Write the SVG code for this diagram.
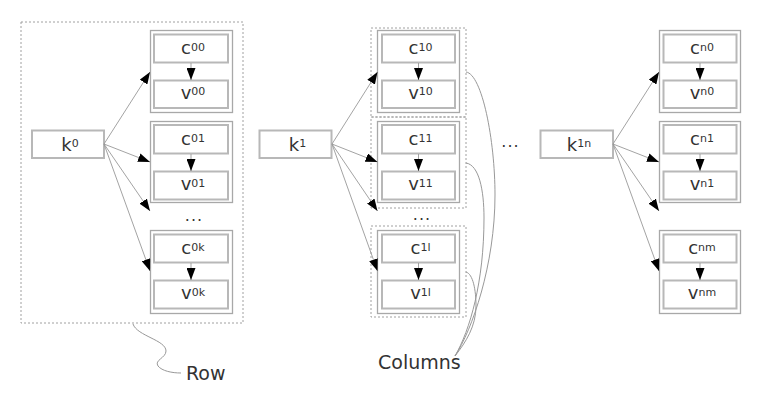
<svg xmlns="http://www.w3.org/2000/svg" width="771" height="403" viewBox="0 0 771 403">
<defs>
<marker id="ah" markerUnits="userSpaceOnUse" markerWidth="12" markerHeight="9" refX="12" refY="4.5" orient="auto">
<path d="M0,0 L12,4.5 L0,9 Z" fill="#000"/>
</marker>
<style>
text{font-family:"DejaVu Sans","Liberation Sans",sans-serif;fill:#333;}
.lbl{font-size:18px;text-anchor:middle;}
.sup{font-size:11px;}
.box{fill:#fff;stroke:#b8b8b8;stroke-width:2;}
.cell{fill:#fff;stroke:#a8a8a8;stroke-width:1.3;}
.dash{fill:none;stroke:#a0a0a0;stroke-width:1;stroke-dasharray:2,2;}
.edge{fill:none;stroke:#999;stroke-width:0.9;marker-end:url(#ah);}
.brace{fill:none;stroke:#999;stroke-width:1;}
.big{font-size:19px;}
.dots{font-size:16px;text-anchor:middle;letter-spacing:1px;}
</style>
</defs>
<rect width="771" height="403" fill="#fff"/>

<g id="groups">
<rect id="row" class="dash" x="21" y="22" width="222" height="301"/>
<rect class="dash" x="371" y="28" width="95" height="89"/>
<rect class="dash" x="371" y="117" width="95" height="91"/>
<rect class="dash" x="371" y="226" width="95" height="91"/>
</g>

<g id="k0"><rect class="box" x="32" y="130.5" width="72" height="27.5"/><text class="lbl" x="70" y="150.5">k<tspan class="sup" dy="-4">0</tspan></text></g>
<g id="k1"><rect class="box" x="259.5" y="130.5" width="72" height="27.5"/><text class="lbl" x="297.5" y="150.5">k<tspan class="sup" dy="-4">1</tspan></text></g>
<g id="k1n"><rect class="box" x="540.5" y="130.5" width="72.5" height="27.5"/><text class="lbl" x="579" y="150.5">k<tspan class="sup" dy="-4">1n</tspan></text></g>

<!-- group 0 cells -->
<g id="cell00"><rect class="cell" x="150.5" y="30.5" width="82" height="82"/>
<rect class="box" x="154" y="34.5" width="74" height="28"/><text class="lbl" x="193" y="54">c<tspan class="sup" dy="-3.5">00</tspan></text>
<rect class="box" x="154" y="80.5" width="74" height="27.5"/><text class="lbl" x="193" y="98.5">v<tspan class="sup" dy="-3.5">00</tspan></text></g>
<g id="cell01"><rect class="cell" x="150.5" y="121.5" width="82" height="81"/>
<rect class="box" x="154" y="125" width="74" height="28.5"/><text class="lbl" x="193" y="145">c<tspan class="sup" dy="-3.5">01</tspan></text>
<rect class="box" x="154" y="171.5" width="74" height="28"/><text class="lbl" x="193" y="190">v<tspan class="sup" dy="-3.5">01</tspan></text></g>
<g id="cell0k"><rect class="cell" x="150.5" y="230.5" width="82" height="83"/>
<rect class="box" x="154" y="234.5" width="74" height="28"/><text class="lbl" x="193" y="254">c<tspan class="sup" dy="-3.5">0k</tspan></text>
<rect class="box" x="154" y="280.5" width="74" height="28"/><text class="lbl" x="193" y="299">v<tspan class="sup" dy="-3.5">0k</tspan></text></g>

<!-- group 1 cells -->
<g id="cell10"><rect class="cell" x="377.5" y="30.5" width="82" height="82"/>
<rect class="box" x="382" y="34.5" width="73" height="28"/><text class="lbl" x="420.5" y="54">c<tspan class="sup" dy="-3.5">10</tspan></text>
<rect class="box" x="382" y="80.5" width="73" height="27.5"/><text class="lbl" x="420.5" y="98.5">v<tspan class="sup" dy="-3.5">10</tspan></text></g>
<g id="cell11"><rect class="cell" x="377.5" y="121.5" width="82" height="81"/>
<rect class="box" x="382" y="125" width="73" height="28.5"/><text class="lbl" x="420.5" y="145">c<tspan class="sup" dy="-3.5">11</tspan></text>
<rect class="box" x="382" y="171.5" width="73" height="28"/><text class="lbl" x="420.5" y="190">v<tspan class="sup" dy="-3.5">11</tspan></text></g>
<g id="cell1l"><rect class="cell" x="377.5" y="230.5" width="82" height="83"/>
<rect class="box" x="382" y="234.5" width="73" height="28"/><text class="lbl" x="420.5" y="254">c<tspan class="sup" dy="-3.5">1l</tspan></text>
<rect class="box" x="382" y="280.5" width="73" height="28"/><text class="lbl" x="420.5" y="299">v<tspan class="sup" dy="-3.5">1l</tspan></text></g>

<!-- group n cells -->
<g id="celln0"><rect class="cell" x="659.5" y="30.5" width="81" height="82"/>
<rect class="box" x="663.5" y="34.5" width="73" height="28"/><text class="lbl" x="702" y="54">c<tspan class="sup" dy="-3.5">n0</tspan></text>
<rect class="box" x="663.5" y="80.5" width="73" height="27.5"/><text class="lbl" x="702" y="98.5">v<tspan class="sup" dy="-3.5">n0</tspan></text></g>
<g id="celln1"><rect class="cell" x="659.5" y="121.5" width="81" height="81"/>
<rect class="box" x="663.5" y="125" width="73" height="28.5"/><text class="lbl" x="702" y="145">c<tspan class="sup" dy="-3.5">n1</tspan></text>
<rect class="box" x="663.5" y="171.5" width="73" height="28"/><text class="lbl" x="702" y="190">v<tspan class="sup" dy="-3.5">n1</tspan></text></g>
<g id="cellnm"><rect class="cell" x="659.5" y="230.5" width="81" height="83"/>
<rect class="box" x="663.5" y="234.5" width="73" height="28"/><text class="lbl" x="702" y="254">c<tspan class="sup" dy="-3.5">nm</tspan></text>
<rect class="box" x="663.5" y="280.5" width="73" height="28"/><text class="lbl" x="702" y="299">v<tspan class="sup" dy="-3.5">nm</tspan></text></g>

<g id="dots">
<text class="dots" x="194" y="221">...</text>
<text class="dots" x="422" y="220">...</text>
<text class="dots" x="510.5" y="147">...</text>
</g>

<g id="connectors">
<path class="edge" d="M104,144 L150,72"/>
<path class="edge" d="M104,144 L150,162"/>
<path class="edge" d="M104,144 L150,211"/>
<path class="edge" d="M104,144 L150,271"/>
<path class="edge" d="M332,144 L377.5,72"/>
<path class="edge" d="M332,144 L377.5,162"/>
<path class="edge" d="M332,144 L377.5,211"/>
<path class="edge" d="M332,144 L377.5,271"/>
<path class="edge" d="M613,144 L659,72"/>
<path class="edge" d="M613,144 L659,162"/>
<path class="edge" d="M613,144 L659,211"/>
<path class="edge" d="M613,144 L659,271"/>
<path class="edge" d="M191,63 L191,80"/>
<path class="edge" d="M191,154 L191,171"/>
<path class="edge" d="M191,263 L191,280"/>
<path class="edge" d="M418.5,63 L418.5,80"/>
<path class="edge" d="M418.5,154 L418.5,171"/>
<path class="edge" d="M418.5,263 L418.5,280"/>
<path class="edge" d="M700,63 L700,80"/>
<path class="edge" d="M700,154 L700,171"/>
<path class="edge" d="M700,263 L700,280"/>
<path class="brace" d="M133,324 C137,336 166,340 166,351 C166,358 154,360 158,366 C162,371 172,373 181,373"/>
<path class="brace" d="M466,72 C482,74 495,140 495,195 C495,265 472,330 455,356"/>
<path class="brace" d="M466,163 C479,165 484,190 484,218 C484,282 470,330 455,356"/>
<path class="brace" d="M466,272 C473,274 476,290 476,306 C476,326 466,342 455,356"/>
</g>

<g id="labels">
<text class="big" x="186" y="380">Row</text>
<text class="big" x="378" y="369">Columns</text>
</g>
</svg>
